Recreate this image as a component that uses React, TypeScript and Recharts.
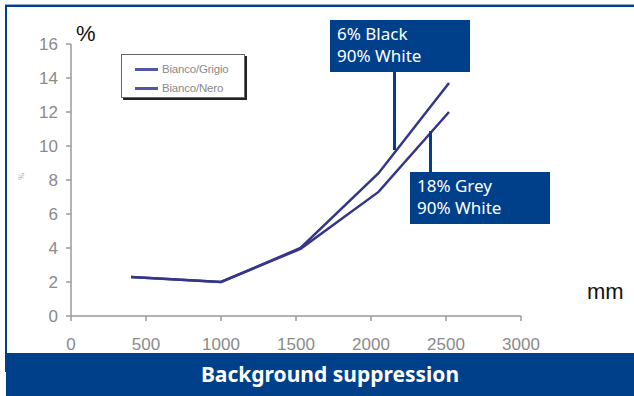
import React from 'react';
import { LineChart, Line, XAxis, YAxis, Legend } from 'recharts';

const distanceMm = [400, 1000, 1530, 2050, 2520];
const biancoGrigio = [2.3, 2.0, 3.95, 7.3, 12.0];
const biancoNero = [2.3, 2.0, 4.0, 8.4, 13.7];
const xTicks = [0, 500, 1000, 1500, 2000, 2500, 3000];
const yTicks = [0, 2, 4, 6, 8, 10, 12, 14, 16];
const seriesNames = ['Bianco/Grigio', 'Bianco/Nero'];
const annotationBlack = ['6% Black', '90% White'];
const annotationGrey = ['18% Grey', '90% White'];
const bannerTitle = 'Background suppression';

const data = distanceMm.map((mm, i) => ({ mm, grigio: biancoGrigio[i], nero: biancoNero[i] }));

const BLUE = '#00408b';
const LINE = '#35358a';
const AXIS = '#9a9a9a';

const LegendBox = (props: any) => {
  const payload = props.payload || [];
  return (
    <div
      style={{
        width: 124,
        height: 44,
        boxSizing: 'border-box',
        border: '1px solid #666',
        boxShadow: '2px 2px 0 #222',
        background: '#fff',
        paddingTop: 4,
        fontFamily: '"Liberation Sans", Arial, sans-serif',
      }}
    >
      {payload.map((p: any) => (
        <div key={p.value} style={{ display: 'flex', alignItems: 'center', height: 18, marginTop: 1 }}>
          <div style={{ marginLeft: 13, width: 23, height: 3, background: '#5555a5' }} />
          <span style={{ marginLeft: 4, fontSize: 11.5, color: '#8a8a8a', letterSpacing: -0.2 }}>{p.value}</span>
        </div>
      ))}
    </div>
  );
};

const annFont = '"Noto Sans", "Open Sans", sans-serif';

export default function App() {
  return (
    <div style={{ position: 'absolute', left: 0, top: 0, width: 634, height: 396, background: '#fff', overflow: 'hidden' }}>
      {/* frame */}
      <div style={{ position: 'absolute', left: 5, top: 4, width: 629, height: 1, background: '#8fa8cc' }} />
      <div style={{ position: 'absolute', left: 5, top: 5, width: 629, height: 2, background: BLUE }} />
      <div style={{ position: 'absolute', left: 5, top: 5, width: 2, height: 367, background: BLUE }} />

      <LineChart width={634} height={396} data={data} margin={{ top: 44, right: 113, bottom: 50, left: 0 }}>
        <XAxis
          type="number"
          dataKey="mm"
          domain={[0, 3000]}
          ticks={xTicks}
          interval={0}
          tickSize={5}
          tickMargin={17}
          height={30}
          stroke={AXIS}
          strokeWidth={1.5}
          tick={{ fill: '#8a8a8a', fontSize: 17, fontFamily: '"Liberation Sans", Arial, sans-serif' }}
        />
        <YAxis
          type="number"
          domain={[0, 16]}
          ticks={yTicks}
          interval={0}
          width={71}
          tickSize={5}
          tickMargin={8}
          stroke={AXIS}
          strokeWidth={1.5}
          tick={{ fill: '#8a8a8a', fontSize: 17, fontFamily: '"Liberation Sans", Arial, sans-serif' }}
          label={{ value: '%', angle: -90, position: 'insideLeft', offset: 21, fontSize: 9, fill: '#aaa' }}
        />
        <Legend
          layout="vertical"
          align="center"
          verticalAlign="middle"
          content={<LegendBox />}
          wrapperStyle={{ left: 121, top: 54, width: 125, height: 45 }}
        />
        <Line type="linear" dataKey="grigio" name={seriesNames[0]} stroke={LINE} strokeWidth={2.5} dot={false} isAnimationActive={false} />
        <Line type="linear" dataKey="nero" name={seriesNames[1]} stroke={LINE} strokeWidth={2.5} dot={false} isAnimationActive={false} />
      </LineChart>

      {/* axis unit labels */}
      <div style={{ position: 'absolute', left: 76, top: 22, fontSize: 22, fontFamily: '"Liberation Sans", Arial, sans-serif', color: '#111', lineHeight: '24px' }}>%</div>
      <div style={{ position: 'absolute', left: 587, top: 279, fontSize: 22, fontFamily: '"Liberation Sans", Arial, sans-serif', color: '#111', lineHeight: '26px' }}>mm</div>

      {/* annotation: 6% Black */}
      <div style={{ position: 'absolute', left: 330, top: 20, width: 140, height: 52, background: BLUE, color: '#fff', fontFamily: annFont, fontSize: 17, lineHeight: '22px', paddingLeft: 7, paddingTop: 3, boxSizing: 'border-box' }}>
        {annotationBlack.map((t) => (<div key={t}>{t}</div>))}
      </div>
      <div style={{ position: 'absolute', left: 393, top: 72, width: 3, height: 78, background: BLUE }} />

      {/* annotation: 18% Grey */}
      <div style={{ position: 'absolute', left: 410, top: 172, width: 140, height: 52, background: BLUE, color: '#fff', fontFamily: annFont, fontSize: 17, lineHeight: '22px', paddingLeft: 7, paddingTop: 3, boxSizing: 'border-box' }}>
        {annotationGrey.map((t) => (<div key={t}>{t}</div>))}
      </div>
      <div style={{ position: 'absolute', left: 429, top: 131, width: 3, height: 41, background: BLUE }} />

      {/* banner */}
      <div style={{ position: 'absolute', left: 6, top: 353, width: 628, height: 43, background: BLUE, color: '#fff', fontFamily: annFont, fontWeight: 700, fontSize: 21, lineHeight: '43px', textAlign: 'center', boxSizing: 'border-box', paddingLeft: 20 }}>
        {bannerTitle}
      </div>
    </div>
  );
}
